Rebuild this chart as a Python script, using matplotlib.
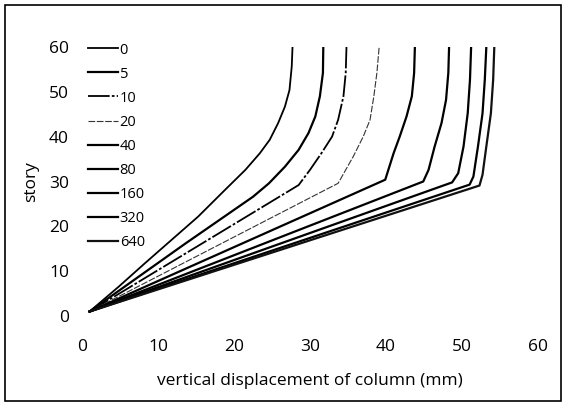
import matplotlib
matplotlib.use("Agg")
import matplotlib.pyplot as plt
from matplotlib.patches import Rectangle

plt.rcParams['font.family'] = ['Open Sans', 'DejaVu Sans']

labels = ["0", "5", "10", "20", "40", "80", "160", "320", "640"]

# (displacement mm, story) points
s0_x = [1.0, 4.8, 8.3, 11.8, 15.3, 18.8, 21.5, 23.4, 24.7, 25.8, 26.7, 27.3, 27.6, 27.7]
s0_y = [1.0, 6.5, 11.8, 17.0, 22.2, 28.1, 32.6, 36.3, 39.3, 43.0, 46.7, 50.4, 55.7, 60.0]
s5_x = [1.0, 13.55, 22.5, 24.6, 26.7, 28.5, 29.8, 30.7, 31.3, 31.7, 31.75]
s5_y = [1.0, 16.1, 26.6, 29.6, 33.3, 37.05, 40.8, 44.5, 49.0, 54.2, 60.0]
s10_x = [1.0, 28.5, 30.0, 31.5, 32.9, 33.7, 34.4, 34.7, 34.8]
s10_y = [1.0, 29.2, 32.6, 36.3, 40.0, 43.75, 49.0, 54.2, 60.0]
s20_x = [1.0, 33.7, 35.7, 37.0, 37.9, 38.4, 38.8, 39.1]
s20_y = [1.0, 29.6, 35.6, 40.0, 43.75, 49.0, 54.2, 60.0]
s40_x = [1.0, 39.9, 41.0, 41.8, 42.7, 43.4, 43.7, 43.8]
s40_y = [1.0, 30.4, 36.3, 40.0, 44.5, 49.0, 54.2, 60.0]
s80_x = [1.0, 44.9, 45.6, 46.4, 47.3, 47.9, 48.2, 48.3]
s80_y = [1.0, 30.0, 32.6, 37.8, 43.0, 48.2, 54.2, 60.0]
s160_x = [1.0, 48.7, 49.5, 50.2, 50.75, 51.05, 51.2]
s160_y = [1.0, 29.8, 31.85, 37.8, 45.2, 52.7, 60.0]
s320_x = [1.0, 51.0, 51.5, 52.1, 52.7, 53.0, 53.2]
s320_y = [1.0, 29.3, 31.1, 37.8, 45.2, 52.7, 60.0]
s640_x = [1.0, 52.3, 52.7, 53.2, 53.8, 54.1, 54.25]
s640_y = [1.0, 29.1, 31.5, 37.8, 45.2, 52.7, 60.0]

series_x = [s0_x, s5_x, s10_x, s20_x, s40_x, s80_x, s160_x, s320_x, s640_x]
series_y = [s0_y, s5_y, s10_y, s20_y, s40_y, s80_y, s160_y, s320_y, s640_y]

styles = [
    dict(lw=1.3, ls='-', color='black'),
    dict(lw=1.6, ls='-', color='black'),
    dict(lw=1.3, ls=(0, (12, 1.2, 1.5, 1.2)), color='black'),
    dict(lw=0.8, ls=(0, (6, 1.5)), color='#333333'),
    dict(lw=1.6, ls='-', color='black'),
    dict(lw=1.6, ls='-', color='black'),
    dict(lw=1.6, ls='-', color='black'),
    dict(lw=1.6, ls='-', color='black'),
    dict(lw=1.6, ls='-', color='#111111'),
]

fig = plt.figure(figsize=(5.64, 4.03), dpi=100)
ax = fig.add_axes([82/564, 87/403, 456/564, 269/403])

for xs, ys, lab, st in zip(series_x, series_y, labels, styles):
    ax.plot(xs, ys, label=lab, solid_joinstyle='round', dash_joinstyle='round', **st)

ax.set_xlim(0, 60)
ax.set_ylim(0, 60)
ax.set_xticks([0, 10, 20, 30, 40, 50, 60])
ax.set_yticks([0, 10, 20, 30, 40, 50, 60])
for sp in ax.spines.values():
    sp.set_visible(False)
ax.tick_params(length=0, labelsize=12.5)
ax.tick_params(axis='x', pad=16.5)
ax.tick_params(axis='y', pad=9.4)
ax.set_xlabel("vertical displacement of column (mm)", fontsize=12.5, labelpad=13)
ax.set_ylabel("story", fontsize=12.5, labelpad=7)

leg = ax.legend(loc='upper left', bbox_to_anchor=(88/564, 1 - 42.5/403),
                bbox_transform=fig.transFigure, frameon=False,
                fontsize=10.5, handlelength=2.05, handletextpad=0.12,
                labelspacing=0.62, borderpad=0, borderaxespad=0)

fig.patches.append(Rectangle((5/564, 2/403), 556/564, 396/403,
                             transform=fig.transFigure, fill=False,
                             edgecolor='black', lw=1.2))

fig.savefig("out.png", dpi=100)
